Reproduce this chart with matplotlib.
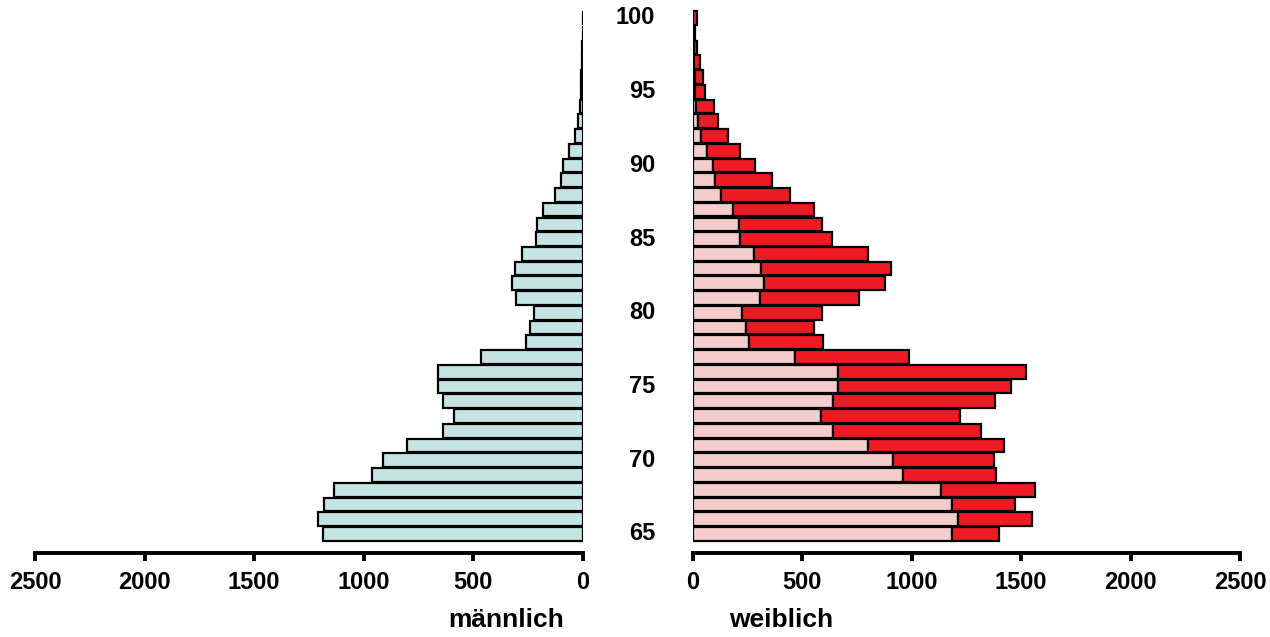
import numpy as np
import matplotlib.pyplot as plt

plt.rcParams['font.family'] = ['Liberation Sans', 'DejaVu Sans']

ages = list(range(65, 101))
# Männer (65 .. 100)
maennlich = [1185, 1210, 1182, 1135, 962, 913, 802, 638, 587, 640,
             662, 662, 466, 258, 240, 224, 306, 326, 312, 280,
             213, 208, 181, 128, 101, 91, 64, 35, 25, 15,
             10, 8, 5, 4, 2, 1]
# Frauen gesamt (65 .. 100)
weiblich = [1398, 1550, 1473, 1562, 1387, 1375, 1421, 1314, 1221, 1382,
            1455, 1523, 987, 594, 553, 590, 758, 877, 907, 799,
            634, 590, 553, 442, 363, 285, 213, 160, 114, 95,
            55, 46, 30, 18, 7, 20]
age_labels = [65, 70, 75, 80, 85, 90, 95, 100]
x_ticks = [0, 500, 1000, 1500, 2000, 2500]

m = np.array(maennlich)
w = np.array(weiblich)
ueberschuss = w - m

fig = plt.figure(figsize=(12.7, 6.37), dpi=100)
ax_l = fig.add_axes([35 / 1270, 1 - 553 / 637, 548 / 1270, 553 / 637])
ax_r = fig.add_axes([693 / 1270, 1 - 553 / 637, 547 / 1270, 553 / 637])

h = 0.93
lw = 1.6
ax_l.barh(ages, m, height=h, color='#C4E3E2', edgecolor='black', linewidth=lw)
ax_r.barh(ages, m, height=h, color='#F4CCCC', edgecolor='black', linewidth=lw)
ax_r.barh(ages, ueberschuss, left=m, height=h, color='#ED1C24', edgecolor='black', linewidth=lw)

ax_l.set_xlim(2500, 0)
ax_r.set_xlim(0, 2500)
for ax in (ax_l, ax_r):
    ax.set_ylim(63.71, 101.22)
    ax.set_xticks(x_ticks)
    ax.set_yticks([])
    for s in ('top', 'left', 'right'):
        ax.spines[s].set_visible(False)
    ax.spines['bottom'].set_linewidth(2.8)
    ax.tick_params(axis='x', direction='out', length=6, width=2.8, pad=7,
                   labelsize=17)
    for lab in ax.get_xticklabels():
        lab.set_fontweight('bold')
    ax.patch.set_alpha(0)

for a in age_labels:
    y = 1 - (534 - (a - 65) * (516 / 35)) / 637
    fig.text(655 / 1270, y, str(a), ha='right', va='center', fontsize=17,
             fontweight='bold')

fig.text(506 / 1270, 1 - 620 / 637, 'männlich', ha='center', va='center',
         fontsize=19, fontweight='bold')
fig.text(781 / 1270, 1 - 620 / 637, 'weiblich', ha='center', va='center',
         fontsize=19, fontweight='bold')

fig.savefig('out.png', dpi=100)
